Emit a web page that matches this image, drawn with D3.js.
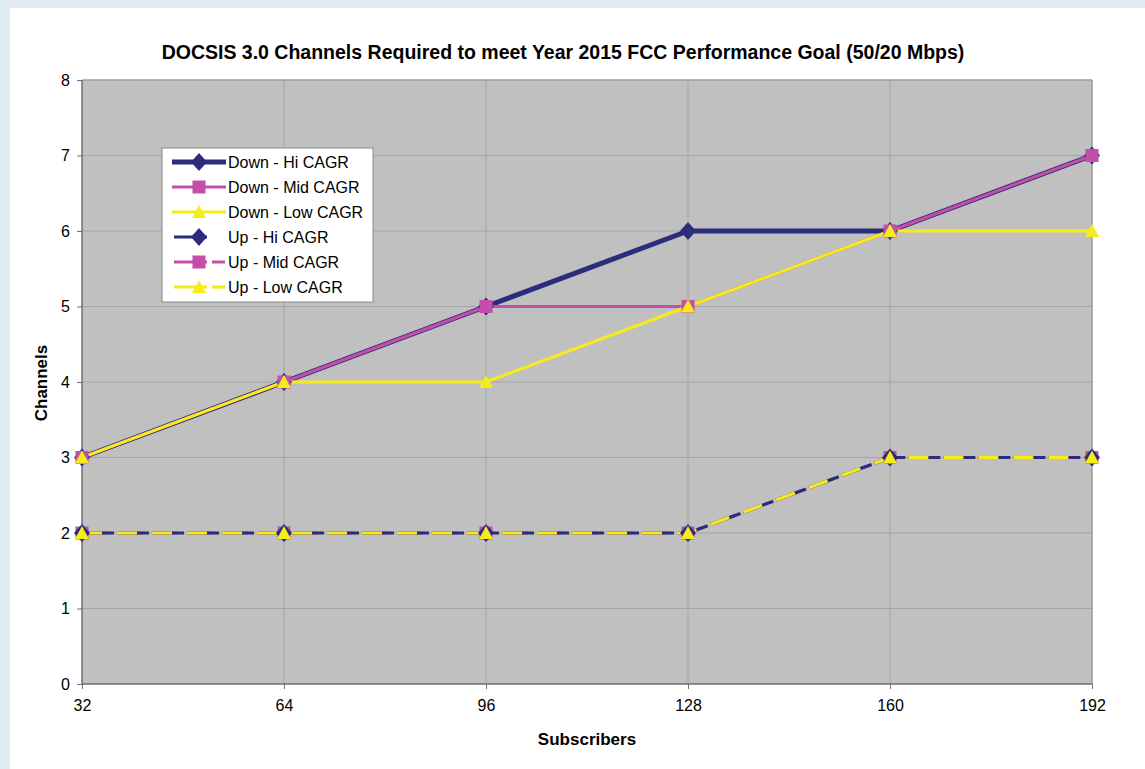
<!DOCTYPE html>
<html>
<head>
<meta charset="utf-8">
<script src="https://cdn.jsdelivr.net/npm/d3@7"></script>
<style>
  html, body { margin: 0; padding: 0; background: #dfecf3; }
  svg { display: block; }
  text { font-family: "Liberation Sans", Arial, sans-serif; fill: #000; }
</style>
</head>
<body>
<svg id="chart" width="1145" height="769"></svg>
<script>
// Subscribers per service group (x axis)
const subscribers = [32, 64, 96, 128, 160, 192];
const yTicks = [0, 1, 2, 3, 4, 5, 6, 7, 8];

// Channels required for each traffic growth scenario
const downHi  = [3, 4, 5, 6, 6, 7];
const downMid = [3, 4, 5, 5, 6, 7];
const downLow = [3, 4, 4, 5, 6, 6];
const upHi    = [2, 2, 2, 2, 3, 3];
const upMid   = [2, 2, 2, 2, 3, 3];
const upLow   = [2, 2, 2, 2, 3, 3];

const seriesNames = ["Down - Hi CAGR", "Down - Mid CAGR", "Down - Low CAGR",
                     "Up - Hi CAGR", "Up - Mid CAGR", "Up - Low CAGR"];

const navy = "#2b2c7c", magenta = "#c44fa8", yellow = "#f5ec1a";

const series = [
  { name: seriesNames[0], values: downHi,  color: navy,    width: 5,   dash: null,    marker: "diamond" },
  { name: seriesNames[1], values: downMid, color: magenta, width: 3,   dash: null,    marker: "square" },
  { name: seriesNames[2], values: downLow, color: yellow,  width: 3,   dash: null,    marker: "triangle" },
  { name: seriesNames[3], values: upHi,    color: navy,    width: 3.2, dash: "32,3",  marker: "diamond" },
  { name: seriesNames[4], values: upMid,   color: magenta, width: 3,   dash: "26,9",  marker: "square" },
  { name: seriesNames[5], values: upLow,   color: yellow,  width: 3.2, dash: "20,15", marker: "triangle" }
];

const svg = d3.select("#chart");

// white card
svg.append("rect").attr("x", 10).attr("y", 8).attr("width", 1135).attr("height", 761).attr("fill", "#fff");

const plotL = 82, plotR = 1092, plotT = 80, plotB = 684;

const x = d3.scaleLinear().domain([32, 192]).range([plotL, plotR]);
const y = d3.scaleLinear().domain([0, 8]).range([plotB, plotT]);

// plot background
svg.append("rect").attr("x", plotL).attr("y", plotT)
  .attr("width", plotR - plotL).attr("height", plotB - plotT)
  .attr("fill", "#c0c0c0");

// gridlines
svg.append("g").selectAll("line").data(yTicks.slice(1)).join("line")
  .attr("x1", plotL).attr("x2", plotR)
  .attr("y1", d => y(d)).attr("y2", d => y(d))
  .attr("stroke", "#a4a4a4").attr("stroke-width", 1);
svg.append("g").selectAll("line").data(subscribers.slice(1)).join("line")
  .attr("y1", plotT).attr("y2", plotB)
  .attr("x1", d => x(d)).attr("x2", d => x(d))
  .attr("stroke", "#a4a4a4").attr("stroke-width", 1);

// frame on the right and top
svg.append("line").attr("x1", plotR).attr("x2", plotR).attr("y1", plotT).attr("y2", plotB)
  .attr("stroke", "#9a9a9a").attr("stroke-width", 1.2);
svg.append("line").attr("x1", plotL).attr("x2", plotR).attr("y1", plotT).attr("y2", plotT)
  .attr("stroke", "#9a9a9a").attr("stroke-width", 1);

// axes
const yAxis = svg.append("g").attr("transform", `translate(${plotL},0)`)
  .call(d3.axisLeft(y).tickValues(yTicks).tickFormat(d3.format("d")).tickSize(5).tickPadding(7));
const xAxis = svg.append("g").attr("transform", `translate(0,${plotB})`)
  .call(d3.axisBottom(x).tickValues(subscribers).tickFormat(d3.format("d")).tickSize(5).tickPadding(11));
[yAxis, xAxis].forEach(a => {
  a.select(".domain").attr("stroke", "#6f6f6f").attr("stroke-width", 1.5);
  a.selectAll(".tick line").attr("stroke", "#6f6f6f");
  a.selectAll(".tick text").attr("font-size", 16).attr("font-family", "Liberation Sans, Arial, sans-serif").attr("fill", "#000");
});
yAxis.select(".domain").attr("d", `M0,${plotT}V${plotB}`);
xAxis.select(".domain").attr("d", `M${plotL},0H${plotR}`);

// titles
svg.append("text").attr("x", 563).attr("y", 59).attr("text-anchor", "middle")
  .attr("font-size", 19.5).attr("font-weight", "bold")
  .text("DOCSIS 3.0 Channels Required to meet Year 2015 FCC Performance Goal (50/20 Mbps)");
svg.append("text").attr("x", 587).attr("y", 745).attr("text-anchor", "middle")
  .attr("font-size", 17).attr("font-weight", "bold").text("Subscribers");
svg.append("text").attr("transform", "translate(47,383) rotate(-90)").attr("text-anchor", "middle")
  .attr("font-size", 17).attr("font-weight", "bold").text("Channels");

// marker shapes
function drawMarker(g, type, color, cx, cy) {
  if (type === "diamond") {
    g.append("path").attr("d", `M${cx},${cy - 9}L${cx + 8},${cy}L${cx},${cy + 9}L${cx - 8},${cy}Z`).attr("fill", color);
  } else if (type === "square") {
    g.append("rect").attr("x", cx - 6.5).attr("y", cy - 6.5).attr("width", 13).attr("height", 13).attr("fill", color);
  } else {
    g.append("path").attr("d", `M${cx},${cy - 7}L${cx + 7},${cy + 6}L${cx - 7},${cy + 6}Z`).attr("fill", color);
  }
}

const line = d3.line().x((d, i) => x(subscribers[i])).y(d => y(d));

// up series first, then down series on top
const drawOrder = [4, 3, 5, 0, 1, 2];
const linesG = svg.append("g");
drawOrder.forEach(k => {
  const s = series[k];
  linesG.append("path").datum(s.values)
    .attr("d", line).attr("fill", "none")
    .attr("stroke", s.color).attr("stroke-width", s.width)
    .attr("stroke-dasharray", s.dash)
    .attr("stroke-linejoin", "round");
});
const markG = svg.append("g");
drawOrder.forEach(k => {
  const s = series[k];
  s.values.forEach((v, i) => drawMarker(markG, s.marker, s.color, x(subscribers[i]), y(v)));
});

// legend
const lg = svg.append("g").attr("transform", "translate(162,148)");
lg.append("rect").attr("x", 0).attr("y", 0).attr("width", 211).attr("height", 154)
  .attr("fill", "#fff").attr("stroke", "#8a8a8a").attr("stroke-width", 1);
series.forEach((s, i) => {
  const cy = 14 + i * 25;
  const row = lg.append("g");
  if (s.dash === null) {
    row.append("line").attr("x1", 10).attr("x2", 64).attr("y1", cy).attr("y2", cy)
      .attr("stroke", s.color).attr("stroke-width", s.width);
  } else {
    row.append("line").attr("x1", 12).attr("x2", 45).attr("y1", cy).attr("y2", cy)
      .attr("stroke", s.color).attr("stroke-width", s.width);
    if (i > 3) {
      row.append("line").attr("x1", 50).attr("x2", 63).attr("y1", cy).attr("y2", cy)
        .attr("stroke", s.color).attr("stroke-width", s.width);
    }
  }
  drawMarker(row, s.marker, s.color, 37, cy);
  row.append("text").attr("x", 66).attr("y", cy + 5.5).attr("font-size", 16).text(s.name);
});
</script>
</body>
</html>
